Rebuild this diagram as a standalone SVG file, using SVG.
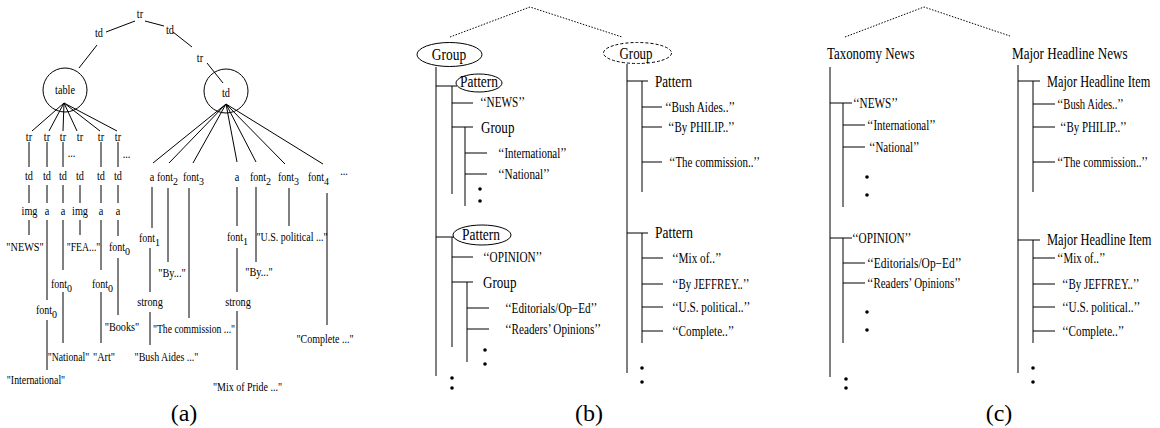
<svg xmlns="http://www.w3.org/2000/svg" width="1160" height="428" viewBox="0 0 1160 428">
<style>
  text { font-family: "Liberation Serif", "Times New Roman", serif; fill: #000; }
  .s { font-size: 13.5px; text-anchor: middle; }
  .ss { font-size: 13.5px; }
  .sub { font-size: 10px; }
  .q { font-size: 14px; }
  .h { font-size: 17px; }
  .hm { font-size: 17px; text-anchor: middle; }
  .hi { font-size: 16px; }
  .cap { font-size: 24px; text-anchor: middle; }
  .e { fill: none; stroke: #000; stroke-width: 1; }
  .ed { fill: none; stroke: #000; stroke-width: 1; stroke-dasharray: 3 2; }
  #connectors line, #connectors path { stroke: #000; stroke-width: 1; fill: none; }
  #connectors .dot { stroke-dasharray: 1.5 1.5; }
  .d { fill: #000; }
</style>

<!-- ===== connectors ===== -->
<g id="connectors">
  <!-- (a) DOM tree edges -->
  <line x1="106" y1="32" x2="135" y2="21"/>
  <line x1="145" y1="21" x2="164" y2="26"/>
  <line x1="97" y1="45" x2="79" y2="68"/>
  <line x1="173" y1="32" x2="192" y2="47"/>
  <line x1="207" y1="63" x2="223" y2="83"/>
  <!-- table fan-out -->
  <line x1="64" y1="103" x2="32" y2="131"/>
  <line x1="64" y1="103" x2="49" y2="131"/>
  <line x1="64" y1="103" x2="63" y2="131"/>
  <line x1="64" y1="103" x2="77" y2="131"/>
  <line x1="64" y1="103" x2="100" y2="131"/>
  <line x1="64" y1="103" x2="117" y2="131"/>
  <!-- td fan-out -->
  <line x1="226" y1="104" x2="153" y2="163"/>
  <line x1="226" y1="104" x2="169" y2="163"/>
  <line x1="226" y1="104" x2="193" y2="163"/>
  <line x1="226" y1="104" x2="237" y2="162"/>
  <line x1="226" y1="104" x2="256" y2="162"/>
  <line x1="226" y1="104" x2="285" y2="164"/>
  <line x1="226" y1="104" x2="323" y2="164"/>
  <!-- table columns -->
  <line x1="29" y1="142" x2="29" y2="167"/><line x1="29" y1="185" x2="29" y2="203"/><line x1="29" y1="220" x2="29" y2="235"/>
  <line x1="47" y1="142" x2="47" y2="167"/><line x1="47" y1="185" x2="47" y2="203"/><line x1="47" y1="220" x2="47" y2="300"/><line x1="47" y1="320" x2="47" y2="370"/>
  <line x1="63" y1="142" x2="63" y2="167"/><line x1="63" y1="185" x2="63" y2="203"/><line x1="63" y1="220" x2="63" y2="270"/><line x1="63" y1="292" x2="63" y2="343"/>
  <line x1="80" y1="185" x2="80" y2="203"/><line x1="80" y1="220" x2="80" y2="235"/>
  <line x1="101" y1="142" x2="101" y2="167"/><line x1="101" y1="185" x2="101" y2="203"/><line x1="101" y1="220" x2="101" y2="270"/><line x1="101" y1="292" x2="101" y2="343"/>
  <line x1="118" y1="142" x2="118" y2="167"/><line x1="118" y1="185" x2="118" y2="203"/><line x1="118" y1="220" x2="118" y2="236"/><line x1="118" y1="258" x2="118" y2="315"/>
  <!-- td children -->
  <line x1="152" y1="187" x2="152" y2="228"/><line x1="150" y1="248" x2="150" y2="292"/><line x1="150" y1="312" x2="150" y2="345"/>
  <line x1="168" y1="188" x2="168" y2="262"/>
  <line x1="189" y1="188" x2="189" y2="318"/>
  <line x1="237" y1="187" x2="237" y2="226"/><line x1="237" y1="248" x2="237" y2="292"/><line x1="237" y1="311" x2="237" y2="370"/>
  <line x1="256" y1="187" x2="256" y2="262"/>
  <line x1="289" y1="188" x2="289" y2="226"/>
  <line x1="327" y1="193" x2="327" y2="325"/>

  <!-- (b) wrapper tree -->
  <path class="dot" d="M450 37 L530 7 L622 37"/>
  <line x1="436" y1="67" x2="436" y2="376"/>
  <line x1="436" y1="86" x2="457" y2="86"/>
  <line x1="452" y1="86" x2="452" y2="194"/>
  <line x1="452" y1="103" x2="473" y2="103"/>
  <line x1="452" y1="127" x2="473" y2="127"/>
  <line x1="465" y1="127" x2="465" y2="206"/>
  <line x1="465" y1="153" x2="487" y2="153"/>
  <line x1="465" y1="174" x2="487" y2="174"/>
  <line x1="436" y1="237" x2="454" y2="237"/>
  <line x1="452" y1="237" x2="452" y2="347"/>
  <line x1="452" y1="257" x2="473" y2="257"/>
  <line x1="452" y1="282" x2="473" y2="282"/>
  <line x1="467" y1="282" x2="467" y2="362"/>
  <line x1="467" y1="308" x2="489" y2="308"/>
  <line x1="467" y1="329" x2="489" y2="329"/>
  <line x1="627" y1="64" x2="627" y2="373"/>
  <line x1="627" y1="81" x2="648" y2="81"/>
  <line x1="642" y1="81" x2="642" y2="192"/>
  <line x1="642" y1="107" x2="662" y2="107"/>
  <line x1="642" y1="127" x2="662" y2="127"/>
  <line x1="642" y1="162" x2="662" y2="162"/>
  <line x1="627" y1="233" x2="648" y2="233"/>
  <line x1="642" y1="233" x2="642" y2="343"/>
  <line x1="642" y1="258" x2="663" y2="258"/>
  <line x1="642" y1="284" x2="663" y2="284"/>
  <line x1="642" y1="307" x2="663" y2="307"/>
  <line x1="642" y1="331" x2="663" y2="331"/>

  <!-- (c) concept tree -->
  <path class="dot" d="M845 37 L924 7 L1010 36"/>
  <line x1="830" y1="67" x2="830" y2="377"/>
  <line x1="830" y1="103" x2="852" y2="103"/>
  <line x1="843" y1="103" x2="843" y2="207"/>
  <line x1="843" y1="125" x2="865" y2="125"/>
  <line x1="843" y1="147" x2="865" y2="147"/>
  <line x1="830" y1="238" x2="852" y2="238"/>
  <line x1="843" y1="238" x2="843" y2="343"/>
  <line x1="843" y1="263" x2="865" y2="263"/>
  <line x1="843" y1="283" x2="865" y2="283"/>
  <line x1="1018" y1="65" x2="1018" y2="373"/>
  <line x1="1018" y1="81" x2="1040" y2="81"/>
  <line x1="1033" y1="81" x2="1033" y2="192"/>
  <line x1="1033" y1="104" x2="1055" y2="104"/>
  <line x1="1033" y1="127" x2="1055" y2="127"/>
  <line x1="1033" y1="162" x2="1055" y2="162"/>
  <line x1="1018" y1="240" x2="1040" y2="240"/>
  <line x1="1033" y1="240" x2="1033" y2="343"/>
  <line x1="1033" y1="258" x2="1055" y2="258"/>
  <line x1="1033" y1="284" x2="1055" y2="284"/>
  <line x1="1033" y1="307" x2="1055" y2="307"/>
  <line x1="1033" y1="331" x2="1055" y2="331"/>
</g>

<!-- ===== (a) DOM tree nodes (condensed Times, scaled horizontally) ===== -->
<g id="a-tr-root"><text class="s" transform="translate(140 18) scale(.76 1)">tr</text></g>
<g id="a-td-left"><text class="s" transform="translate(99 37) scale(.76 1)">td</text></g>
<g id="a-td-right"><text class="s" transform="translate(170 34) scale(.76 1)">td</text></g>
<g id="a-tr-2"><text class="s" transform="translate(200 62) scale(.76 1)">tr</text></g>
<g id="a-table"><circle class="e" cx="65" cy="90" r="22"/><text class="s" transform="translate(65 94) scale(.76 1)">table</text></g>
<g id="a-td-circle"><circle class="e" cx="226" cy="91" r="22"/><text class="s" transform="translate(226 97) scale(.76 1)">td</text></g>

<g id="a-rows-tr">
  <text class="s" transform="translate(29 141) scale(.76 1)">tr</text>
  <text class="s" transform="translate(47 141) scale(.76 1)">tr</text>
  <text class="s" transform="translate(63 141) scale(.76 1)">tr</text>
  <text class="s" transform="translate(80 141) scale(.76 1)">tr</text>
  <text class="s" transform="translate(101 141) scale(.76 1)">tr</text>
  <text class="s" transform="translate(118 141) scale(.76 1)">tr</text>
  <text class="s" transform="translate(71.5 157) scale(.76 1)">...</text>
  <text class="s" transform="translate(126.5 158) scale(.76 1)">...</text>
</g>
<g id="a-rows-td">
  <text class="s" transform="translate(29 180) scale(.76 1)">td</text>
  <text class="s" transform="translate(47 180) scale(.76 1)">td</text>
  <text class="s" transform="translate(63 180) scale(.76 1)">td</text>
  <text class="s" transform="translate(80 180) scale(.76 1)">td</text>
  <text class="s" transform="translate(101 180) scale(.76 1)">td</text>
  <text class="s" transform="translate(118 180) scale(.76 1)">td</text>
</g>
<g id="a-rows-cell">
  <text class="s" transform="translate(29.5 215) scale(.76 1)">img</text>
  <text class="s" transform="translate(47 215) scale(.76 1)">a</text>
  <text class="s" transform="translate(63 215) scale(.76 1)">a</text>
  <text class="s" transform="translate(80 215) scale(.76 1)">img</text>
  <text class="s" transform="translate(101 215) scale(.76 1)">a</text>
  <text class="s" transform="translate(118 215) scale(.76 1)">a</text>
</g>
<g id="a-leaf-news"><text class="s" transform="translate(25 251) scale(.76 1)">"NEWS"</text></g>
<g id="a-leaf-fea"><text class="s" transform="translate(83.5 251) scale(.72 1)">"FEA..."</text></g>
<g id="a-font0-books"><text class="ss" transform="translate(109 251) scale(.74 1)">font</text><text class="sub" x="125" y="255">0</text></g>
<g id="a-leaf-books"><text class="s" transform="translate(122 331) scale(.76 1)">"Books"</text></g>
<g id="a-font0-intl"><text class="ss" transform="translate(36 314) scale(.74 1)">font</text><text class="sub" x="52" y="318">0</text></g>
<g id="a-leaf-intl"><text class="s" transform="translate(36 384) scale(.73 1)">"International"</text></g>
<g id="a-font0-natl"><text class="ss" transform="translate(51 288) scale(.74 1)">font</text><text class="sub" x="67" y="292">0</text></g>
<g id="a-leaf-natl"><text class="s" transform="translate(68.5 361) scale(.72 1)">"National"</text></g>
<g id="a-font0-art"><text class="ss" transform="translate(92 288) scale(.74 1)">font</text><text class="sub" x="108" y="292">0</text></g>
<g id="a-leaf-art"><text class="s" transform="translate(104 361) scale(.76 1)">"Art"</text></g>

<g id="a-td-children">
  <text class="s" transform="translate(152 181) scale(.76 1)">a</text>
  <text class="ss" transform="translate(157 181) scale(.74 1)">font</text><text class="sub" x="173" y="185">2</text>
  <text class="ss" transform="translate(183 181) scale(.74 1)">font</text><text class="sub" x="199" y="185">3</text>
  <text class="s" transform="translate(237 181) scale(.76 1)">a</text>
  <text class="ss" transform="translate(250 181) scale(.74 1)">font</text><text class="sub" x="266" y="185">2</text>
  <text class="ss" transform="translate(278 181) scale(.74 1)">font</text><text class="sub" x="294" y="185">3</text>
  <text class="ss" transform="translate(308 181) scale(.74 1)">font</text><text class="sub" x="324" y="185">4</text>
  <text class="s" transform="translate(344 175) scale(.76 1)">...</text>
</g>
<g id="a-font1-left"><text class="ss" transform="translate(139 242) scale(.74 1)">font</text><text class="sub" x="155" y="246">1</text></g>
<g id="a-strong-left"><text class="s" transform="translate(150 306) scale(.76 1)">strong</text></g>
<g id="a-leaf-bush"><text class="s" transform="translate(166.5 361) scale(.74 1)">"Bush Aides ..."</text></g>
<g id="a-leaf-by1"><text class="s" transform="translate(172 277) scale(.76 1)">"By..."</text></g>
<g id="a-leaf-comm"><text class="s" transform="translate(194 333) scale(.72 1)">"The commission ..."</text></g>
<g id="a-font1-right"><text class="ss" transform="translate(227 241) scale(.74 1)">font</text><text class="sub" x="243" y="245">1</text></g>
<g id="a-strong-right"><text class="s" transform="translate(238 306) scale(.76 1)">strong</text></g>
<g id="a-leaf-mix"><text class="s" transform="translate(247.5 391) scale(.74 1)">"Mix of Pride ..."</text></g>
<g id="a-leaf-by2"><text class="s" transform="translate(259 276) scale(.76 1)">"By..."</text></g>
<g id="a-leaf-us"><text class="s" transform="translate(292 241) scale(.74 1)">"U.S. political ..."</text></g>
<g id="a-leaf-complete"><text class="s" transform="translate(325 343) scale(.74 1)">"Complete ..."</text></g>

<!-- ===== (b) wrapper tree nodes ===== -->
<g id="b-group-left"><ellipse class="e" cx="449.5" cy="54.5" rx="32.5" ry="12"/><text class="hm" transform="translate(449 59.5) scale(.79 1)">Group</text></g>
<g id="b-group-right"><ellipse class="ed" cx="637.5" cy="53" rx="34" ry="10.5"/><text class="hm" transform="translate(636 59) scale(.76 1)">Group</text></g>
<g id="b-pattern-1"><ellipse class="e" cx="479" cy="83" rx="23" ry="9"/><text class="hm" transform="translate(479 87) scale(.79 1)">Pattern</text></g>
<g id="b-news"><text class="q" transform="translate(480 107) scale(.8 1)">‘‘NEWS’’</text></g>
<g id="b-group-sub1"><text class="h" transform="translate(481 132.5) scale(.77 1)">Group</text></g>
<g id="b-intl"><text class="q" transform="translate(498 157.5) scale(.78 1)">‘‘International’’</text></g>
<g id="b-natl"><text class="q" transform="translate(498 178.5) scale(.8 1)">‘‘National’’</text></g>
<g id="b-more-1"><circle class="d" cx="480" cy="189" r="1.8"/><circle class="d" cx="480" cy="201" r="1.8"/></g>
<g id="b-pattern-2"><ellipse class="e" cx="482" cy="235" rx="29" ry="10"/><text class="hm" transform="translate(481 240) scale(.79 1)">Pattern</text></g>
<g id="b-opinion"><text class="q" transform="translate(483 261.5) scale(.8 1)">‘‘OPINION’’</text></g>
<g id="b-group-sub2"><text class="h" transform="translate(483 288) scale(.77 1)">Group</text></g>
<g id="b-editorials"><text class="q" transform="translate(505 312.5) scale(.8 1)">‘‘Editorials/Op−Ed’’</text></g>
<g id="b-readers"><text class="q" transform="translate(505 333.5) scale(.8 1)">‘‘Readers’ Opinions’’</text></g>
<g id="b-more-2"><circle class="d" cx="485" cy="350" r="1.8"/><circle class="d" cx="485" cy="364" r="1.8"/></g>
<g id="b-more-3"><circle class="d" cx="452" cy="378" r="1.8"/><circle class="d" cx="452" cy="388" r="1.8"/></g>
<g id="b-pattern-r1"><text class="h" transform="translate(655 86.5) scale(.77 1)">Pattern</text></g>
<g id="b-bush"><text class="q" transform="translate(665 111.5) scale(.8 1)">‘‘Bush Aides..’’</text></g>
<g id="b-philip"><text class="q" transform="translate(668 131.5) scale(.78 1)">‘‘By PHILIP..’’</text></g>
<g id="b-comm"><text class="q" transform="translate(669 166.5) scale(.78 1)">‘‘The commission..’’</text></g>
<g id="b-pattern-r2"><text class="h" transform="translate(655 238) scale(.79 1)">Pattern</text></g>
<g id="b-mix"><text class="q" transform="translate(672 262.5) scale(.8 1)">‘‘Mix of..’’</text></g>
<g id="b-jeffrey"><text class="q" transform="translate(672 288.5) scale(.78 1)">‘‘By JEFFREY..’’</text></g>
<g id="b-us"><text class="q" transform="translate(672 311.5) scale(.8 1)">‘‘U.S. political..’’</text></g>
<g id="b-complete"><text class="q" transform="translate(672 335.5) scale(.8 1)">‘‘Complete..’’</text></g>
<g id="b-more-4"><circle class="d" cx="642" cy="368" r="1.8"/><circle class="d" cx="642" cy="382" r="1.8"/></g>

<!-- ===== (c) concept tree nodes ===== -->
<g id="c-taxonomy"><text class="h" transform="translate(827 59) scale(.76 1)">Taxonomy News</text></g>
<g id="c-headline"><text class="h" transform="translate(1012 59) scale(.77 1)">Major Headline News</text></g>
<g id="c-news"><text class="q" transform="translate(853 107.5) scale(.8 1)">‘‘NEWS’’</text></g>
<g id="c-intl"><text class="q" transform="translate(867 129.5) scale(.78 1)">‘‘International’’</text></g>
<g id="c-natl"><text class="q" transform="translate(869 151.5) scale(.78 1)">‘‘National’’</text></g>
<g id="c-more-1"><circle class="d" cx="867" cy="177" r="1.8"/><circle class="d" cx="867" cy="195" r="1.8"/></g>
<g id="c-opinion"><text class="q" transform="translate(852 242.5) scale(.8 1)">‘‘OPINION’’</text></g>
<g id="c-editorials"><text class="q" transform="translate(867 267.5) scale(.82 1)">‘‘Editorials/Op−Ed’’</text></g>
<g id="c-readers"><text class="q" transform="translate(867 287.5) scale(.78 1)">‘‘Readers’ Opinions’’</text></g>
<g id="c-more-2"><circle class="d" cx="867" cy="312" r="1.8"/><circle class="d" cx="867" cy="330" r="1.8"/></g>
<g id="c-more-3"><circle class="d" cx="846" cy="379" r="1.8"/><circle class="d" cx="846" cy="388" r="1.8"/></g>
<g id="c-item-1"><text class="hi" transform="translate(1047 86.5) scale(.77 1)">Major Headline Item</text></g>
<g id="c-bush"><text class="q" transform="translate(1057 108.5) scale(.76 1)">‘‘Bush Aides..’’</text></g>
<g id="c-philip"><text class="q" transform="translate(1060 131.5) scale(.78 1)">‘‘By PHILIP..’’</text></g>
<g id="c-comm"><text class="q" transform="translate(1057 166.5) scale(.78 1)">‘‘The commission..’’</text></g>
<g id="c-item-2"><text class="hi" transform="translate(1047 245) scale(.78 1)">Major Headline Item</text></g>
<g id="c-mix"><text class="q" transform="translate(1057 262.5) scale(.78 1)">‘‘Mix of..’’</text></g>
<g id="c-jeffrey"><text class="q" transform="translate(1062 288.5) scale(.78 1)">‘‘By JEFFREY..’’</text></g>
<g id="c-us"><text class="q" transform="translate(1062 311.5) scale(.8 1)">‘‘U.S. political..’’</text></g>
<g id="c-complete"><text class="q" transform="translate(1062 335.5) scale(.8 1)">‘‘Complete..’’</text></g>
<g id="c-more-4"><circle class="d" cx="1033" cy="368" r="1.8"/><circle class="d" cx="1033" cy="382" r="1.8"/></g>

<!-- panel captions -->
<g id="captions">
  <text class="cap" x="184" y="421">(a)</text>
  <text class="cap" x="589" y="421">(b)</text>
  <text class="cap" x="999" y="421">(c)</text>
</g>
</svg>
